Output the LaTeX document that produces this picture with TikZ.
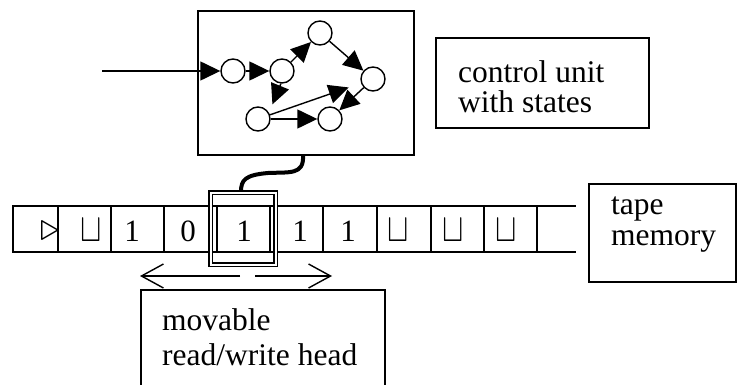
\RequirePackage{fix-cm}
\documentclass[tikz,border=0pt]{standalone}
\usepackage{fontspec}
\setmainfont{Liberation Serif}
\usetikzlibrary{arrows.meta}
\newcommand{\blanksym}{\scalebox{0.8}[1]{$\sqcup$}}
\begin{document}
\begin{tikzpicture}[x=1pt,y=-1pt,
  state/.style={circle,draw,line width=1.4pt,minimum size=24pt,inner sep=0pt},
  trans/.style={line width=1.4pt,-{Triangle[length=20pt,width=19pt]}},
  box/.style={draw,line width=1.4pt,inner sep=0pt},
  lbl/.style={anchor=base west,inner sep=0pt,font=\fontsize{31.5}{31.5}\selectfont},
  sym/.style={anchor=base,inner sep=0pt,font=\fontsize{31}{31}\selectfont},
  tapesym/.style={anchor=base,inner sep=0pt,font=\fontsize{40}{40}\selectfont},
  tapeline/.style={line width=1.3pt},
  slide/.style={line width=1.4pt,-{Straight Barb[length=22pt,width=24pt]}},
  cable/.style={line width=4pt}
]
\useasboundingbox (0,0) rectangle (738,385);
\clip (0,0) rectangle (738,385);

% control unit with its state diagram
\node[box,minimum width=216pt,minimum height=144pt] (cu) at (306,83) {};
\coordinate (in) at (102,71);
\node[state] (s1) at (233,71) {};
\node[state] (s2) at (282,71) {};
\node[state] (s3) at (320,33) {};
\node[state] (s4) at (373,79) {};
\node[state] (s5) at (258,119) {};
\node[state] (s6) at (330,119) {};
\draw[trans] (in) -- (s1);
\draw[trans] (s1) -- (s2);
\draw[trans] (s2) -- (s3);
\draw[trans] (s3) -- (s4);
\draw[trans,shorten >=9pt] (s2.265) -- (s5.30);
\draw[trans,shorten >=13pt] (s5) -- (s4);
\draw[trans] (s5) -- (s6);
\draw[trans] (s4) -- (s6);

% label of the control unit
\node[box,minimum width=213pt,minimum height=90pt] (cubox) at (542.5,83) {};
\node[lbl] (cut1) at (458,83) {control unit};
\node[lbl] (cut2) at (458,113) {with states};

% tape
\draw[tapeline] (12,206) -- (576,206);
\draw[tapeline] (12,252) -- (576,252);
\foreach \x in {13,58,111,164,217,270,323,377,431,484,537}
  \draw[tapeline] (\x,206) -- (\x,252);
\node[tapesym] (c0) at (50,240) {$\triangleright$};
\node[tapesym] (c1) at (91.5,241) {\blanksym};
\node[sym] (c2) at (132,241) {1};
\node[sym] (c3) at (188,241) {0};
\node[sym] (c4) at (244,241) {1};
\node[sym] (c5) at (300,241) {1};
\node[sym] (c6) at (348,241) {1};
\node[tapesym] (c7) at (398.5,241) {\blanksym};
\node[tapesym] (c8) at (453.5,241) {\blanksym};
\node[tapesym] (c9) at (506.5,241) {\blanksym};

% label of the tape
\node[box,minimum width=147pt,minimum height=98pt] (tapebox) at (662.5,233) {};
\node[lbl] (tt1) at (611,214) {tape};
\node[lbl] (tt2) at (611,245) {memory};

% read/write head and its cable to the control unit
\node[draw,line width=1.5pt,double,double distance=2pt,
      minimum width=65pt,minimum height=72pt,inner sep=0pt] (head) at (243,228.5) {};
\draw[cable] ([xshift=-3pt]cu.south) .. controls (304,175) and (290,172) .. (268,173)
  .. controls (245,175) and (241,180) .. ([xshift=-2pt]head.north);

% head movement
\coordinate (la) at (240,276);
\coordinate (lb) at (140,276);
\coordinate (ra) at (255,276);
\coordinate (rb) at (332,276);
\draw[slide] (la) -- (lb);
\draw[slide] (ra) -- (rb);

% label of the head
\node[box,minimum width=244pt,minimum height=110pt] (headbox) at (263,345) {};
\node[lbl] (ht1) at (162,330) {movable};
\node[lbl] (ht2) at (162,365) {read/write head};
\end{tikzpicture}
\end{document}
